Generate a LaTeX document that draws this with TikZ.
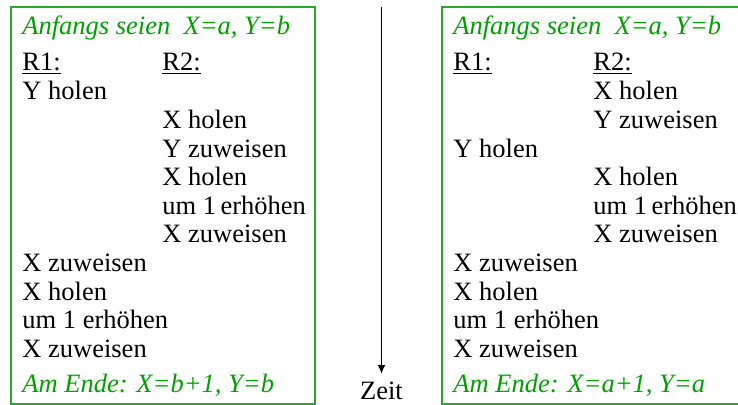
\documentclass[tikz,border=0pt]{standalone}
\usepackage{fontspec}
\setmainfont{Liberation Serif}
\usetikzlibrary{arrows.meta}
\definecolor{titelgruen}{RGB}{0,160,0}
\definecolor{rahmengruen}{RGB}{40,170,40}

\begin{document}
\begin{tikzpicture}[x=0.5pt,y=-0.5pt,>={Latex[length=4.5pt,width=4pt]},
    every node/.style={anchor=base west,inner sep=0pt,font=\fontsize{13.25}{15}\selectfont},
    kopf/.style={text=titelgruen,font=\fontsize{13.25}{15}\selectfont\itshape}]
  \clip (0,0) rectangle (738,405);
  % zwei Ablaeufe
  \draw[rahmengruen,line width=1pt] (11,7) rectangle (315,404);
  \draw[rahmengruen,line width=1pt] (442,7) rectangle (760,404);

  % links
  \node[kopf] (lstart) at (22,35) {Anfangs seien\ \ X=a, Y=b};
  \node (lrA) at (22,70.7) {\underline{R1:}};
  \node (lrB) at (162,70.7) {\underline{R2:}};
  \node (l1) at (22,100) {Y holen};
  \node (l2) at (162,128.6) {X holen};
  \node (l3) at (162,157.2) {Y zuweisen};
  \node (l4) at (162,185.8) {X holen};
  \node (l5) at (162,214.4) {um 1\,erhöhen};
  \node (l6) at (162,243) {X zuweisen};
  \node (l7) at (22,271.6) {X zuweisen};
  \node (l8) at (22,300.2) {X holen};
  \node (l9) at (22,328.8) {um 1 erhöhen};
  \node (l10) at (22,357.4) {X zuweisen};
  \node[kopf] (lende) at (22,392) {Am Ende: X=b+1, Y=b};

  % Zeitachse
  \coordinate (tanf) at (381.5,7);
  \coordinate (tend) at (381.5,374);
  \draw[->,line width=0.9pt] (tanf) -- (tend);
  \node[anchor=base] (zeit) at (381.5,400) {Zeit};

  % rechts
  \node[kopf] (rstart) at (453,35) {Anfangs seien\ \ X=a, Y=b};
  \node (rrA) at (453,70.7) {\underline{R1:}};
  \node (rrB) at (593,70.7) {\underline{R2:}};
  \node (r1) at (593,100) {X holen};
  \node (r2) at (593,128.6) {Y zuweisen};
  \node (r3) at (453,157.2) {Y holen};
  \node (r4) at (593,185.8) {X holen};
  \node (r5) at (593,214.4) {um 1\,erhöhen};
  \node (r6) at (593,243) {X zuweisen};
  \node (r7) at (453,271.6) {X zuweisen};
  \node (r8) at (453,300.2) {X holen};
  \node (r9) at (453,328.8) {um 1 erhöhen};
  \node (r10) at (453,357.4) {X zuweisen};
  \node[kopf] (rende) at (453,392) {Am Ende: X=a+1, Y=a};
\end{tikzpicture}
\end{document}
